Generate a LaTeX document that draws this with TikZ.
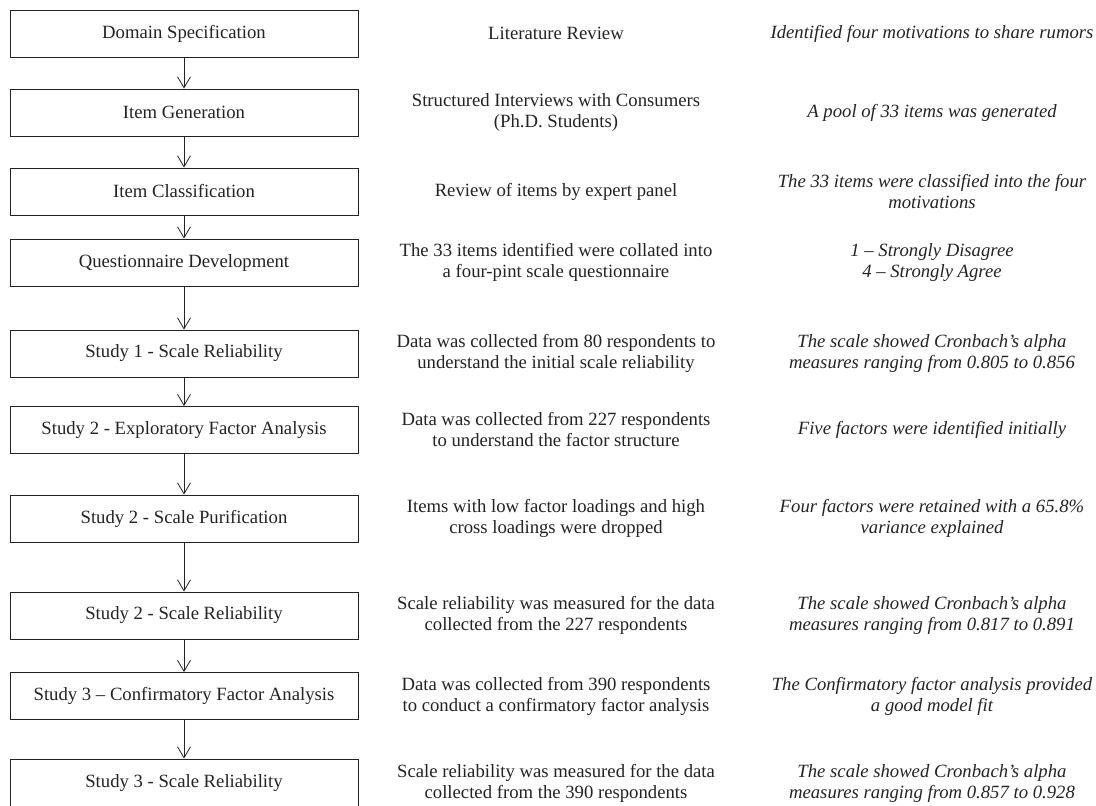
\documentclass[tikz,border=0pt]{standalone}
\usepackage{fontspec}
\setmainfont{Liberation Serif}
\usepackage{xcolor}
\usepackage{tikz}
\usetikzlibrary{arrows.meta,positioning}

\definecolor{ink}{RGB}{35,35,35}

\begin{document}
\begin{tikzpicture}[x=1pt, y=-1pt,
    stagebox/.style={draw=ink, line width=0.9pt, minimum width=348pt, minimum height=47pt, inner sep=0pt, text=ink, font=\fontsize{18.7}{21}\selectfont},
    method/.style={align=center, text=ink, font=\fontsize{18.7}{21}\selectfont},
    outcome/.style={align=center, text=ink, font=\fontsize{18.7}{21}\selectfont\itshape},
    link/.style={draw=ink, line width=0.8pt, -{Straight Barb[length=11pt,width=13pt,line width=0.8pt]}}]
\useasboundingbox (0,0) rectangle (1096,806);

% Stages
\node[stagebox] (s1) at (184,33.5) {Domain Specification};
\node[stagebox] (s2) at (184,112.5) {Item Generation};
\node[stagebox] (s3) at (184,191.5) {Item Classification};
\node[stagebox] (s4) at (184,262.5) {Questionnaire Development};
\node[stagebox] (s5) at (184,353.5) {Study 1 - Scale Reliability};
\node[stagebox] (s6) at (184,430) {Study 2 - Exploratory Factor Analysis};
\node[stagebox] (s7) at (184,518.5) {Study 2 - Scale Purification};
\node[stagebox] (s8) at (184,615.5) {Study 2 - Scale Reliability};
\node[stagebox] (s9) at (184,696) {Study 3 – Confirmatory Factor Analysis};
\node[stagebox, minimum height=48pt] (s10) at (184,783) {Study 3 - Scale Reliability};

% Methods
\node[method] (m1) at (556,33.5) {Literature Review};
\node[method] (m2) at (556,112.5) {Structured Interviews with Consumers\\(Ph.D. Students)};
\node[method] (m3) at (556,191.5) {Review of items by expert panel};
\node[method] (m4) at (556,262.5) {The 33 items identified were collated into\\a four-pint scale questionnaire};
\node[method] (m5) at (556,353.5) {Data was collected from 80 respondents to\\understand the initial scale reliability};
\node[method] (m6) at (556,430) {Data was collected from 227 respondents\\to understand the factor structure};
\node[method] (m7) at (556,518.5) {Items with low factor loadings and high\\cross loadings were dropped};
\node[method] (m8) at (556,615.5) {Scale reliability was measured for the data\\collected from the 227 respondents};
\node[method] (m9) at (556,696) {Data was collected from 390 respondents\\to conduct a confirmatory factor analysis};
\node[method] (m10) at (556,783) {Scale reliability was measured for the data\\collected from the 390 respondents};

% Outcomes
\node[outcome] (o1) at (932,33.5) {Identified four motivations to share rumors};
\node[outcome] (o2) at (932,112.5) {A pool of 33 items was generated};
\node[outcome] (o3) at (932,191.5) {The 33 items were classified into the four\\motivations};
\node[outcome] (o4) at (932,262.5) {1 – Strongly Disagree\\4 – Strongly Agree};
\node[outcome] (o5) at (932,353.5) {The scale showed Cronbach’s alpha\\measures ranging from 0.805 to 0.856};
\node[outcome] (o6) at (932,430) {Five factors were identified initially};
\node[outcome] (o7) at (932,518.5) {Four factors were retained with a 65.8\%\\variance explained};
\node[outcome] (o8) at (932,615.5) {The scale showed Cronbach’s alpha\\measures ranging from 0.817 to 0.891};
\node[outcome] (o9) at (932,696) {The Confirmatory factor analysis provided\\a good model fit};
\node[outcome] (o10) at (932,783) {The scale showed Cronbach’s alpha\\measures ranging from 0.857 to 0.928};

% Arrows
\foreach \a/\b in {s1/s2,s2/s3,s3/s4,s4/s5,s5/s6,s6/s7,s7/s8,s8/s9,s9/s10} {
    \draw[link] (\a.south) -- (\b.north);
}
\end{tikzpicture}
\end{document}
